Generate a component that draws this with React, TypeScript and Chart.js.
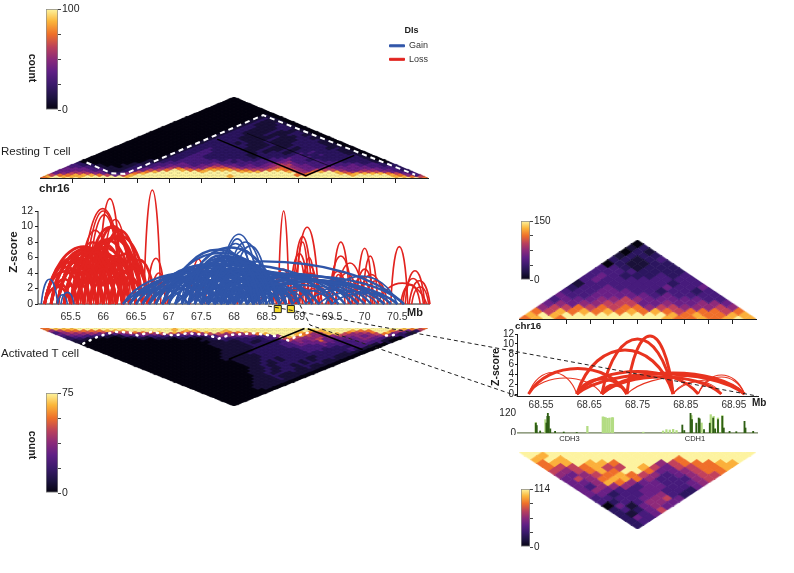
import { useEffect, useRef } from 'react';
import { Chart, registerables } from 'chart.js';
Chart.register(...registerables);

// ---------- values ----------
const mainTicks = [65.5, 66, 66.5, 67, 67.5, 68, 68.5, 69, 69.5, 70, 70.5];
const zoomTopTicks = [68.6, 68.65, 68.7, 68.75, 68.8, 68.85, 68.9, 68.95];
const zoomLabelTicks = [68.55, 68.65, 68.75, 68.85, 68.95];
const mainZTicks = [0, 2, 4, 6, 8, 10, 12];
const trackTicks = [0, 120];
const squareMb = [68.67, 68.87];

// [start Mb, end Mb, peak z-score]
const lossThick = [
  [65.1,66.3,7.4],[65.2,66.3,7.2],[65.2,66.2,7.0],[65.3,66.1,6.5],[65.1,65.9,5.4],[65.1,65.7,4.2],[65.2,65.6,3.2],[65.3,65.8,4.5],
  [65.3,65.9,5.5],[65.4,66.1,6.3],[65.4,66.0,5.5],[65.5,66.3,6.5],[65.5,66.0,5.2],[65.6,66.2,5.9],[65.6,66.2,6.0],[65.7,66.3,6.5],
  [65.7,66.1,4.2],[65.8,66.4,6.2],[65.8,66.3,5.5],[65.9,66.5,6.2],[65.7,66.6,8.5],[65.8,66.7,8.8],[65.8,66.6,8.6],[65.7,66.5,9.9],
  [65.8,66.5,10.0],[65.9,66.6,9.5],[66.0,66.7,6.5],[66.0,66.5,5.2],[66.1,66.6,5.5],[66.1,66.4,3.5],[66.2,66.7,5.0],[66.3,66.8,5.7],
  [66.2,66.6,3.5],[66.3,66.6,3],[65.9,66.3,5],[65.2,65.5,2.5],[65.4,65.6,2.4],[65.5,65.8,2.5],[65.6,65.9,3],[65.8,66.1,2.8],[65.9,66.2,3],
  [65.1,66.0,6],[65.3,66.3,7],[65.4,66.4,7.2],[65.5,66.5,7.3],[65.3,66.2,7.2],[65.5,66.1,6.7],[65.6,66.4,7.8],[65.6,66.5,8.3],[65.1,65.5,2.2],
  [65.6,66.0,4.4],[65.7,66.1,5],[65.9,66.4,5.4],[66.0,66.3,3.5],[65.5,65.9,4.1],[65.2,65.7,4.8],[65.3,66.0,5.9],[65.4,65.8,4.3],[65.8,66.2,4.6],[66.1,66.5,4.2],
];
const lossThin = [
  [65.65,66.33,12.3],[65.7,66.3,12.0],[65.75,66.28,11.5],[65.92,66.28,13.6],[65.95,66.42,10.9],[65.6,66.15,9.5],[65.55,66.1,8.0],[65.65,66.05,8],[65.85,66.15,8],
  [66.62,66.88,14.7],[66.66,66.95,5.9],[66.78,67.0,2.8],[66.72,66.98,4.0],[67.33,67.58,5.8],[67.4,67.55,3.8],[67.9,68.2,2.0],[68.05,68.35,2.2],[68.4,68.65,2.2],
  [68.68,68.84,12.0],[68.6,68.9,4.5],[68.72,68.85,3.5],[68.94,69.3,9.9],[68.9,69.2,8.7],[68.95,69.15,8.0],[68.85,69.15,6.5],[68.92,69.1,5.5],[69.0,69.3,5],[69.05,69.25,6],[68.98,69.35,4],
  [68.6,68.8,2],[68.75,68.95,2],[68.85,69.05,2.2],[69.0,69.2,2],[69.1,69.3,2],[69.2,69.45,2.1],[69.3,69.5,1.6],
  [69.5,69.77,8.0],[69.45,69.82,6.2],[69.55,70.0,5.3],[69.42,69.75,4.2],[69.5,69.7,3.8],[69.55,69.9,4],
  [69.88,70.12,7.2],[69.97,70.2,6.2],[69.85,70.15,4.5],[69.8,70.1,3.5],[69.9,70.3,3.8],[70.0,70.35,3],
  [70.4,70.66,7.4],[70.2,70.95,2.7],[70.62,70.92,4.3],[70.58,70.9,3.3],[70.68,71.0,3.0],[70.55,70.85,2.5],[70.72,70.98,2.2],
];
const gainThick = [
  [66.3,70.6,5.5],[66.4,69.7,5.1],[66.6,69.2,5.0],[66.8,68.9,5.2],[67,68.8,5.6],[66.9,68.7,6.6],[67.2,68.7,7.3],[67.0,68.5,7.0],
  [67.6,70.6,3.6],[67.3,70.3,3.9],[67.1,69.9,4.0],[66.9,69.6,4.3],[66.7,69.3,4.4],[66.5,68.7,4.6],[66.3,68.3,4.0],[66.4,68.0,3.5],
  [66.6,67.9,3.2],[66.8,68.1,3.8],[66.9,68.3,4.2],[67.2,68.9,4.6],[67.4,69.2,4.4],[67.6,69.5,4.0],[67.8,69.8,3.6],[68,70.1,3.2],
  [68.2,70.4,3.0],[67.5,70.0,3.6],[67.7,70.3,3.2],[67.9,70.5,2.9],[67.3,68.8,3.9],
  [67,67.9,3.5],[67.1,68.0,3.8],[67.2,68.2,4.3],[67.3,68.1,3.9],[67.3,68.3,4.4],[67.4,68.2,4.2],[67.5,68.4,4.6],[67.5,68.3,4.1],[67.6,68.5,4.5],[67.7,68.5,4.3],
  [67.7,68.6,4.4],[67.8,68.7,4.1],[67.9,68.7,3.9],[68.0,68.8,3.5],[68.1,68.8,3.2],[68.2,68.9,2.8],[68.3,69.0,2.6],[66.8,67.7,2.8],[66.9,67.9,3.4],[66.7,67.6,2.4],
  [66.5,67.5,2.3],[66.4,67.3,1.9],[66.6,68.2,4.4],[66.7,68.4,5.0],[66.8,68.5,5.2],[67.1,68.6,5.6],[67.2,68.5,6.0],[67.3,68.6,6.0],[67.4,68.7,5.8],[67.5,68.7,5.5],
  [67.6,68.6,5.8],[67.7,68.7,5.3],[67.4,68.4,6.2],[67.3,68.3,6.3],[67.5,68.3,6.0],[67.6,68.4,5.9],
];
const gainThin = [
  [65.05,65.3,3.2],[65.3,65.45,1.2],[65.35,65.55,1.5],[67.2,67.55,4.5],[67.25,67.5,3.8],[69.4,70.5,3.6],
  [67.75,68.4,9.0],[67.8,68.3,8.4],[67.85,68.5,8.0],[67.95,68.55,7.5],[67.7,68.35,7.8],[67.85,68.45,7],[67.6,68.2,7.0],
  [67,67.8,2.2],[67.2,68.0,2.3],[67.4,68.2,2.5],[67.6,68.3,2.0],[67.8,68.5,2.1],[68,68.7,2.0],[68.2,68.9,2.1],[68.3,69.1,2.0],
  [68.5,69.3,1.9],[68.7,69.5,1.8],[68.9,69.9,1.9],[69.1,70.2,1.8],[69.3,70.4,1.6],[69.5,70.5,1.4],[67.1,67.5,1.3],
  [67.3,67.9,1.6],[67.5,68.1,1.5],[67.7,68.4,1.6],[67.9,68.6,1.5],[68.1,68.8,1.4],[68.3,69.0,1.4],[67.2,68.4,3.1],[67.4,68.6,3.3],[67.6,68.8,3.2],[67.8,69.0,3.0],[68,69.3,2.9],[68.2,69.6,2.6],[68.4,69.9,2.4],
  [67.6,68.0,3],[67.7,68.1,3.1],[67.8,68.2,2.9],[67.9,68.3,2.8],[68.0,68.4,2.5],[67.5,67.9,2.7],[67.4,67.8,2.6],[67.3,67.7,2.4],[67.2,67.6,2.3],[68.1,68.5,2.3],
  [68.3,68.7,2.1],[68.4,68.8,1.9],[67.5,67.8,1.6],[67.7,68.0,1.5],[67.9,68.2,1.4],[68.1,68.4,1.4],
];
const zoomThick = [
  [68.676,68.824,11],[68.728,68.824,11.6],[68.624,68.824,8.8],[68.624,68.876,4.5],[68.524,68.728,5.1],[68.624,68.972,4],[68.676,68.972,4.2],[68.676,68.924,3.4],[68.624,68.728,3],[68.676,68.728,1.8],
];
const zoomThin = [
  [68.524,68.624,4.3],[68.524,68.676,3.2],[68.824,68.924,2.5],[68.876,68.972,3.8],[68.876,68.972,3.4],[68.728,68.972,3.5],[68.824,68.972,2.8],
];

const trackDarkMb = [68.539,68.541,68.548,68.561,68.563,68.564,68.566,68.569,68.579,68.597,68.624,68.843,68.847,68.86,68.863,68.872,68.877,68.879,68.888,68.9,68.907,68.911,68.917,68.926,68.929,68.941,68.955,68.972,68.974,68.99];
const trackDarkVal = [59,45,12,60,100,120,100,25,10,6,3,48,15,120,80,59,90,85,20,59,90,25,80,100,30,10,8,70,30,10];
const trackLightMb = [68.539,68.559,68.646,68.678,68.681,68.684,68.688,68.692,68.697,68.699,68.762,68.803,68.81,68.817,68.824,68.831,68.862,68.883,68.902,68.908,68.917,68.926];
const trackLightVal = [63,80,40,97,95,92,88,90,92,92,5,12,20,18,22,15,105,60,110,100,90,105];

// Heat cells: one string per distance from the diagonal, one digit (colour level) per cell.
const restingRows = [
  '7999999999999999999999999999999999999999999999997',
  '898889999989999999999998999999999999999999998876',
  '67788876468999999999999999999997799999899998753',
  '4566654225789999999999999999999679998788887643',
  '445544212467899999899998889998657898656665432',
  '44443311234667987788887766787654666544554432',
  '4443311123445676557776555567654445444444332',
  '333211012234454445665444456654434444443332',
  '32210011223344434454434345664433333433322',
  '2100000112333433343333334554333333332321',
  '000000001123333333323333345333333222210',
  '00000000112233333233223334332322222210',
  '0000000001223332222222233433222222210',
  '00000000012233222222122223332222221',
  '0000000001223322222122222322322221',
  '000000000122332222212221233222211',
  '00000000012233222212122122322211',
  '0000000001223222211211212222211',
  '000000000122322221121121222121',
  '00000000012222222112112222211',
  '0000000001222222111211222211',
  '000000000122221211211222211',
  '00000000012222211211122211',
  '0000000001222211121112221',
  '000000000122211112112211',
  '00000000012221111211221',
  '0000000001222112112211',
  '000000000122111211221',
  '00000000012211121121',
  '0000000001221112211',
  '000000000122111221',
  '00000000012211221',
  '0000000001211121',
  '000000000121121',
  '00000000012111',
  '0000000001211',
  '000000000121',
  '00000000011',
  '0000000001',
];
const activatedRows = [
  '7999999999999999999999999999999999999999999999997',
  '788899999999999989999999999999999999999999999876',
  '56777778889999999889998999999999988999877997642',
  '3566666666777898767898778999999876899766798531',
  '455554334555566554566555678999875588655567421',
  '344332113343333333335544433599865456554555320',
  '2332110112122122112433332337865565444554310',
  '221000000101101001232222234665564444454310',
  '11000000000000001112122122365457433344310',
  '1000000000000000011112122234544543334331',
  '000000000000000011111222233444433333310',
  '00000000000000001111122223343343323310',
  '0000000000000000111112222333333223310',
  '00000000000000001111222222333222321',
  '0000000000000000111122222233322231',
  '000000000000000111122222223222221',
  '00000000000000011122222222222211',
  '0000000000000011111222222222211',
  '000000000000001111122222212211',
  '00000000000001111122122212221',
  '0000000000000111112212221211',
  '000000000000001112122212211',
  '00000000000000111212221221',
  '0000000000000011212212211',
  '000000000000001121221211',
  '00000000000000112122121',
  '0000000000000112122111',
  '000000000000011212211',
  '00000000000011212111',
  '0000000000001122111',
  '000000000000112111',
  '00000000000111211',
  '0000000000011121',
  '000000000011111',
  '00000000001111',
  '0000000001111',
  '000000000111',
  '00000000111',
  '0000000011',
];
const zoomRestingRows = [
  '78979999999987787898','8989999999998787788','768787878787677767','56676767756655565','4545566644544554',
  '344455654444433','43344444343333','3334443323323','233433334334','13333333233','3433333333','343222323',
  '33332222','3321222','021122','22123','1222','021','12','0',
];
const zoomActivatedRows = [
  '99999999999999999999','9899999999999999999','898999999999799999','78898879995677788','7667866986466778',
  '656787997445677','54567876534566','4657887533356','445875443345','43555344334','4543344332','442334532',
  '33334564','3233554','041454','23246','2134','243','23','2',
];

// Overlaid lines on the two big triangles: [Mb, rows from the diagonal]
const restingDashed = [[65.72,9.4],[66.1,2.9],[66.31,2.5],[68.45,38],[70.8,2]];
const restingSolid = [[67.74,23.5],[69.11,1.4],[69.86,13.7]];
const restingFaint = [[68.2,27],[69.5,6.9]];
const activatedDottedA = [[65.67,9.8],[65.9,5.3],[66.15,2.4],[66.38,2.7],[66.51,4.7],[66.72,2.4],[67.07,4.7],[67.28,3.3],[67.59,4.3],[67.76,6.7],[67.94,4.3],[68.3,3.3],[68.68,5.3],[68.84,7.8],[69.02,4.3],[69.2,2.4]];
const activatedDottedB = [[70.35,4.7],[70.45,4.7],[70.52,3.3]];
const activatedSolidA = [[69.09,0.3],[67.92,19.6]];
const activatedSolidB = [[69.14,0.5],[69.99,13.7]];

// Zoom connectors, page coordinates
const connectorA = [[268,306],[757,396]];
const connectorB = [[300,305],[310,325],[517,396]];

const LEVELS = ['#05030f','#1a1139','#2c1660','#471b7c','#6a2086','#8f2a7a','#c2415c','#ef6f2a','#fbb03b','#fdf3a0'];
const GRADIENT = [[0,'#05030f'],[0.12,'#1c1340'],[0.25,'#3a1a6b'],[0.38,'#5f1f85'],[0.5,'#8a2a7a'],[0.62,'#b9405c'],[0.75,'#ee6f2a'],[0.88,'#fbb63b'],[1,'#fdf5a0']];
const FONT = '"Liberation Sans", Arial, sans-serif';
const INK = '#1d1d1d';
const RED = '#e2231f';
const BLUE = '#2f55a8';

// ---------- helpers ----------
type Box = { l: number; t: number; r: number; b: number };
const fixed = (size: number, horizontal: boolean) => (s: any) => {
  if (horizontal) s.height = size; else s.width = size;
  s.paddingLeft = s.paddingRight = s.paddingTop = s.paddingBottom = 0;
};
const useTicks = (arr: number[]) => (s: any) => { s.ticks = arr.map((value) => ({ value })); };
const pts = (a: number[][]) => a.map(([x, y]) => ({ x, y }));

function stamp(color: string, w: number, h: number) {
  const c = document.createElement('canvas');
  c.width = Math.ceil(w + 0.3); c.height = Math.ceil(h + 0.3);
  const g = c.getContext('2d')!;
  g.fillStyle = color;
  g.beginPath();
  g.moveTo(c.width / 2, 0); g.lineTo(c.width, c.height / 2); g.lineTo(c.width / 2, c.height); g.lineTo(0, c.height / 2);
  g.closePath(); g.fill();
  return c;
}

function heatDatasets(rows: string[], bins: number, min: number, max: number, plot: Box) {
  const size = (max - min) / bins;
  const buckets: { x: number; y: number }[][] = LEVELS.map(() => []);
  for (let d = 0; d < bins; d++) {
    const row = rows[d] || '';
    for (let i = 0; i < bins - d; i++) {
      buckets[Number(row[i] || 0)].push({ x: min + (i + 0.5 + d / 2) * size, y: d });
    }
  }
  const w = (plot.r - plot.l) / bins;
  const h = (2 * (plot.b - plot.t)) / bins;
  return buckets.map((data, level) => ({
    data,
    pointStyle: stamp(LEVELS[level], w, h),
    pointRadius: 3,
    pointHoverRadius: 3,
    showLine: false,
  }));
}

const overlayLine = (a: number[][], color: string, width: number, dash: number[] = [], cap = 'butt') => ({
  data: pts(a), showLine: true, pointRadius: 0, borderColor: color, borderWidth: width, borderDash: dash, borderCapStyle: cap, clip: false as any, tension: 0,
});

const arcPlugin = {
  id: 'arcs',
  afterDatasetsDraw(chart: any) {
    const g = chart.ctx;
    chart.data.datasets.forEach((ds: any, i: number) => {
      if (!ds.arcColor) return;
      const [a, p, b] = chart.getDatasetMeta(i).data;
      const w = b.x - a.x;
      const lift = (a.y - p.y) * (4 / 3);
      g.save();
      g.strokeStyle = ds.arcColor;
      g.lineWidth = ds.arcWidth;
      g.beginPath();
      g.moveTo(a.x, a.y);
      g.bezierCurveTo(a.x + 0.2 * w, a.y - lift, b.x - 0.2 * w, b.y - lift, b.x, b.y);
      g.stroke();
      g.restore();
    });
  },
};
const arcDatasets = (arcs: number[][], color: string, width: number) =>
  arcs.map(([s, e, z]) => ({
    data: [{ x: s, y: 0 }, { x: (s + e) / 2, y: z }, { x: e, y: 0 }],
    pointRadius: 0, showLine: false, arcColor: color, arcWidth: width,
  }));

// Page text
const pageLabels = [
  { text: 'count', x: 32, y: 68, size: 10.5, bold: true, rot: 90, align: 'center' },
  { text: 'count', x: 32, y: 445, size: 10.5, bold: true, rot: 90, align: 'center' },
  { text: 'Resting T cell', x: 1, y: 152, size: 11.5, align: 'left' },
  { text: 'Activated T cell', x: 1, y: 354, size: 11.5, align: 'left' },
  { text: 'chr16', x: 39, y: 189, size: 11.5, bold: true, align: 'left' },
  { text: 'chr16', x: 515, y: 326, size: 9.8, bold: true, align: 'left' },
  { text: 'Mb', x: 407, y: 313, size: 11, bold: true, align: 'left' },
  { text: 'Mb', x: 752, y: 403, size: 10, bold: true, align: 'left' },
  { text: 'Z-score', x: 14, y: 252, size: 11.5, bold: true, rot: -90, align: 'center' },
  { text: 'Z-score', x: 496, y: 367, size: 10.5, bold: true, rot: -90, align: 'center' },
  { text: 'CDH3', x: 569.5, y: 439, size: 7.5, align: 'center' },
  { text: 'CDH1', x: 695, y: 439, size: 7.5, align: 'center' },
];
const textPlugin = {
  id: 'pageText',
  afterDraw(chart: any) {
    const g = chart.ctx;
    pageLabels.forEach((t) => {
      g.save();
      g.translate(t.x, t.y);
      if (t.rot) g.rotate((t.rot * Math.PI) / 180);
      g.font = `${t.bold ? 'bold ' : ''}${t.size}px ${FONT}`;
      g.fillStyle = INK;
      g.textAlign = t.align;
      g.textBaseline = 'middle';
      g.fillText(t.text, 0, 0);
      g.restore();
    });
  },
};

const baseOptions = (padding: any, scales: any, extra: any = {}) => ({
  responsive: false,
  animation: false,
  events: [],
  layout: { padding },
  scales,
  plugins: { legend: { display: false }, tooltip: { enabled: false } },
  ...extra,
});

type Panel = { key: string; left: number; top: number; width: number; height: number; config: () => any };

function plotPanel(key: string, plot: Box, m: Box, xShown: boolean, yShown: boolean, config: (pad: any) => any): Panel {
  return {
    key,
    left: plot.l - m.l,
    top: plot.t - m.t,
    width: plot.r - plot.l + m.l + m.r,
    height: plot.b - plot.t + m.t + m.b,
    config: () => config({ top: m.t, right: m.r, left: yShown ? 0 : m.l, bottom: xShown ? 0 : m.b }),
  };
}

function colorbar(key: string, plot: Box, max: number, ticks: number[], size: number): Panel {
  const m = { l: 2, t: 8, r: 30, b: 8 };
  return plotPanel(key, plot, m, false, true, (pad) => ({
    type: 'bar',
    data: {
      labels: ['count'],
      datasets: [{
        data: [[0, max]],
        barPercentage: 1, categoryPercentage: 1,
        borderColor: '#8a8a8a', borderWidth: 1, borderSkipped: false,
        backgroundColor: (ctx: any) => {
          const a = ctx.chart.chartArea;
          if (!a) return LEVELS[0];
          const grad = ctx.chart.ctx.createLinearGradient(0, a.bottom, 0, a.top);
          GRADIENT.forEach(([s, c]) => grad.addColorStop(s as number, c as string));
          return grad;
        },
      }],
    },
    options: baseOptions({ ...pad, right: 0 }, {
      x: { display: false },
      y: {
        position: 'right', min: 0, max,
        afterBuildTicks: useTicks(ticks),
        afterFit: fixed(m.r, false),
        ticks: { callback: (v: number) => (v === 0 || v === max ? String(v) : ''), autoSkip: false, padding: 1, color: INK, font: { family: FONT, size } },
        grid: { drawOnChartArea: false, tickLength: 3, tickColor: '#444' },
        border: { display: false },
      },
    }),
  }));
}

function triangle(key: string, plot: Box, rows: string[], bins: number, min: number, max: number, reverse: boolean, lines: any[], ticks?: number[], backing = false): Panel {
  const m = { l: 2, t: 2, r: 2, b: ticks ? 7 : 2 };
  const back = backing
    ? [{ data: pts([[min, 0], [(min + max) / 2, bins], [max, 0]]), showLine: true, fill: 'origin', backgroundColor: LEVELS[0], borderWidth: 0, pointRadius: 0, tension: 0 }]
    : [];
  return plotPanel(key, plot, m, !!ticks, false, (pad) => ({
    type: 'scatter',
    data: { datasets: [...lines, ...heatDatasets(rows, bins, min, max, plot), ...back] },
    options: baseOptions(pad, {
      x: ticks
        ? {
            type: 'linear', min, max,
            afterBuildTicks: useTicks(ticks),
            afterFit: fixed(m.b, true),
            ticks: { callback: () => '', autoSkip: false, maxRotation: 0 },
            grid: { drawOnChartArea: false, tickLength: 5, tickColor: INK },
            border: { color: INK },
          }
        : { type: 'linear', min, max, display: false },
      y: { type: 'linear', min: 0, max: bins, reverse, display: false },
    }),
  }));
}

const PANELS: Panel[] = [
  colorbar('barResting', { l: 48, t: 9, r: 58, b: 110 }, 100, [0, 25, 50, 75, 100], 10.5),
  colorbar('barActivated', { l: 48, t: 393, r: 58, b: 493 }, 75, [0, 18.75, 37.5, 56.25, 75], 10.5),
  colorbar('barZoomResting', { l: 523, t: 221, r: 530, b: 280 }, 150, [0, 37.5, 75, 112.5, 150], 10),
  colorbar('barZoomActivated', { l: 523, t: 489, r: 530, b: 547 }, 114, [0, 28.5, 57, 85.5, 114], 10),

  triangle('resting', { l: 38, t: 95, r: 430, b: 178 }, restingRows, 49, 65, 71, false, [
    overlayLine(restingSolid, '#000', 1.5),
    overlayLine(restingFaint, 'rgba(0,0,0,0.55)', 1),
    overlayLine(restingDashed, '#fff', 2, [5, 4]),
  ], mainTicks, true),
  triangle('activated', { l: 38, t: 326, r: 430, b: 408 }, activatedRows, 49, 65, 71, true, [
    overlayLine(activatedSolidA, '#000', 1.5),
    overlayLine(activatedSolidB, '#000', 1.5),
    overlayLine(activatedDottedA, '#fff', 2.5, [1, 6], 'round'),
    overlayLine(activatedDottedB, '#fff', 2.5, [1, 6], 'round'),
  ], undefined, true),
  triangle('zoomResting', { l: 517, t: 238, r: 758, b: 319 }, zoomRestingRows, 20, 68.5, 69, false, [], zoomTopTicks),
  triangle('zoomActivated', { l: 517, t: 450, r: 758, b: 531 }, zoomActivatedRows, 20, 68.5, 69, true, []),

  plotPanel('arcsMain', { l: 38, t: 211, r: 430, b: 311 }, { l: 38, t: 26, r: 10, b: 14 }, true, true, (pad) => ({
    type: 'scatter',
    data: {
      datasets: [
        { data: squareMb.map((x) => ({ x, y: -0.65 })), pointStyle: 'rect', pointRadius: 5, pointBackgroundColor: '#f4dc2c', pointBorderColor: '#222', pointBorderWidth: 1, clip: false },
        overlayLine([[65, 0], [71, 0]], INK, 1),
        overlayLine([[65, 0], [65, 12]], INK, 1),
        ...arcDatasets(lossThin, RED, 1.6),
        ...arcDatasets(lossThick, RED, 2.8),
        ...arcDatasets(gainThin, BLUE, 1.6),
        ...arcDatasets(gainThick, BLUE, 2.4),
      ],
    },
    options: baseOptions(pad, {
      x: {
        type: 'linear', min: 65, max: 71,
        afterBuildTicks: useTicks(mainTicks),
        afterFit: fixed(14, true),
        ticks: { callback: (v: number) => String(v), autoSkip: false, maxRotation: 0, padding: 0, color: '#333', font: { family: FONT, size: 10.5 } },
        grid: { display: false, drawTicks: false },
        border: { display: false },
      },
      y: {
        type: 'linear', min: -0.9, max: 12,
        afterBuildTicks: useTicks(mainZTicks),
        afterFit: fixed(38, false),
        ticks: { callback: (v: number) => String(v), autoSkip: false, padding: 2, color: INK, font: { family: FONT, size: 10.5 } },
        grid: { drawOnChartArea: false, tickLength: 3, tickColor: INK },
        border: { display: false },
      },
    }),
    plugins: [arcPlugin],
  })),

  plotPanel('arcsZoom', { l: 517, t: 334, r: 758, b: 396 }, { l: 20, t: 6, r: 10, b: 16 }, true, true, (pad) => ({
    type: 'scatter',
    data: { datasets: [...arcDatasets(zoomThin, '#e8331f', 1.1), ...arcDatasets(zoomThick, '#e8331f', 3)] },
    options: baseOptions(pad, {
      x: {
        type: 'linear', min: 68.5, max: 69,
        afterBuildTicks: useTicks(zoomLabelTicks),
        afterFit: fixed(16, true),
        ticks: { callback: (v: number) => String(v), autoSkip: false, maxRotation: 0, padding: 3, color: '#333', font: { family: FONT, size: 10 } },
        grid: { drawOnChartArea: false, drawTicks: false },
        border: { color: INK },
      },
      y: {
        type: 'linear', min: -0.4, max: 12,
        afterBuildTicks: useTicks(mainZTicks),
        afterFit: fixed(20, false),
        ticks: { callback: (v: number) => String(v), autoSkip: false, padding: 1, color: INK, font: { family: FONT, size: 10 } },
        grid: { drawOnChartArea: false, tickLength: 2, tickColor: INK },
        border: { color: INK },
      },
    }),
    plugins: [arcPlugin],
  })),

  plotPanel('track', { l: 517, t: 413, r: 758, b: 433 }, { l: 24, t: 6, r: 4, b: 2 }, false, true, (pad) => ({
    type: 'bar',
    data: {
      datasets: [
        { type: 'bar', data: trackDarkMb.map((x, i) => ({ x, y: trackDarkVal[i] })), backgroundColor: '#2f5f14', barThickness: 1.2, grouped: false },
        { type: 'bar', data: trackLightMb.map((x, i) => ({ x, y: trackLightVal[i] })), backgroundColor: '#b3dc83', barThickness: 1.6, grouped: false },
        { type: 'scatter', ...overlayLine([[68.5, 0.5], [69, 0.5]], '#6f7f5a', 1.2) },
      ],
    },
    options: baseOptions(pad, {
      x: { type: 'linear', min: 68.5, max: 69, display: false, offset: false },
      y: {
        type: 'linear', min: 0, max: 120,
        afterBuildTicks: useTicks(trackTicks),
        afterFit: fixed(24, false),
        ticks: { callback: (v: number) => String(v), autoSkip: false, padding: 1, color: INK, font: { family: FONT, size: 10 } },
        grid: { display: false, drawTicks: false },
        border: { display: false },
      },
    }),
  })),

  {
    key: 'legend', left: 385, top: 26, width: 70, height: 46,
    config: () => ({
      type: 'line',
      data: {
        datasets: [
          { label: 'Gain', data: [], borderColor: BLUE, backgroundColor: BLUE, borderWidth: 1 },
          { label: 'Loss', data: [], borderColor: RED, backgroundColor: RED, borderWidth: 1 },
        ],
      },
      options: {
        responsive: false, animation: false, events: [],
        layout: { padding: 0 },
        scales: { x: { display: false }, y: { display: false } },
        plugins: {
          tooltip: { enabled: false },
          legend: {
            position: 'left', align: 'start', maxWidth: 70, maxHeight: 46,
            title: { display: true, text: 'DIs', color: INK, padding: 0, font: { family: FONT, size: 9, weight: 'bold' } },
            labels: { boxWidth: 15, boxHeight: 2, padding: 4.5, color: '#333', font: { family: FONT, size: 9 } },
          },
        },
      },
    }),
  },

  {
    key: 'overlay', left: 0, top: 0, width: 794, height: 573,
    config: () => ({
      type: 'scatter',
      data: { datasets: [overlayLine(connectorA, '#222', 1, [4, 3]), overlayLine(connectorB, '#222', 1, [4, 3])] },
      options: baseOptions(0, {
        x: { type: 'linear', min: 0, max: 794, display: false },
        y: { type: 'linear', min: 0, max: 573, reverse: true, display: false },
      }),
      plugins: [textPlugin],
    }),
  },
];

function ChartCanvas({ panel }: { panel: Panel }) {
  const ref = useRef<HTMLCanvasElement>(null);
  useEffect(() => {
    const chart = new Chart(ref.current as HTMLCanvasElement, panel.config());
    return () => chart.destroy();
  }, [panel]);
  return (
    <canvas
      ref={ref}
      width={panel.width}
      height={panel.height}
      style={{ position: 'absolute', left: panel.left, top: panel.top, width: panel.width, height: panel.height, display: 'block', pointerEvents: 'none' }}
    />
  );
}

export default function App() {
  return (
    <div style={{ position: 'absolute', left: 0, top: 0, width: 794, height: 573, overflow: 'hidden', background: '#fff' }}>
      {PANELS.map((p) => (
        <ChartCanvas key={p.key} panel={p} />
      ))}
    </div>
  );
}
